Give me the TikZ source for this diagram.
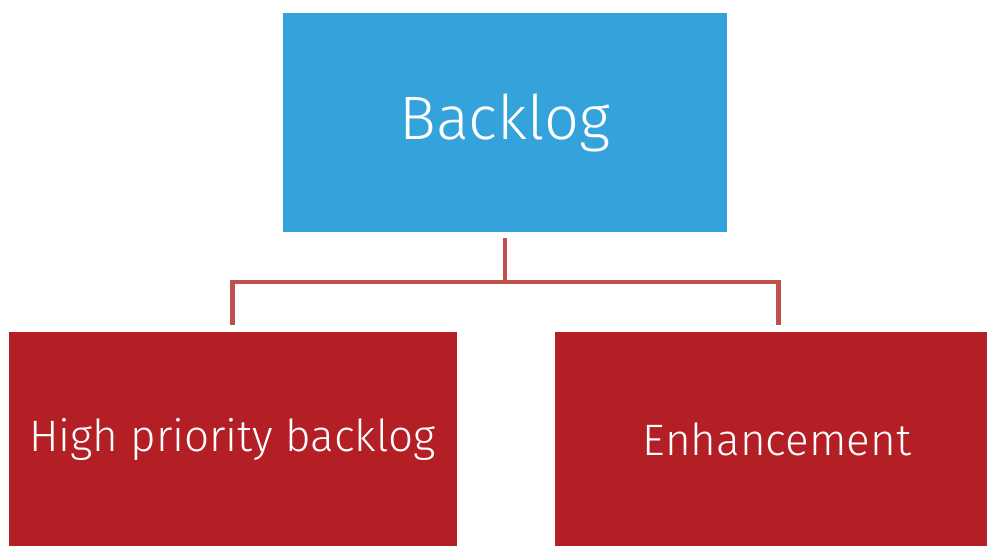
\documentclass[tikz,border=0pt]{standalone}
\usepackage{fontspec}
\setmainfont{Fira Sans}[UprightFont=* Light]
\usepackage{xcolor}
\usetikzlibrary{positioning, calc}
\definecolor{blblue}{RGB}{52, 163, 219}
\definecolor{blred}{RGB}{179, 31, 37}
\definecolor{bllink}{RGB}{192, 80, 77}

\begin{document}
\begin{tikzpicture}[
    x=0.75pt, y=-0.75pt,
    topbox/.style={fill=blblue, minimum width=333pt, minimum height=164.25pt,
                   inner sep=0pt, text=white, font=\fontsize{46}{54}\selectfont},
    itembox/.style={fill=blred, minimum height=160.5pt,
                     inner sep=0pt, text=white, font=\fontsize{33}{40}\selectfont},
    link/.style={draw=bllink, line width=3.6pt},
  ]
    \useasboundingbox (0,0) rectangle (987,546);
    % Backlog root
    \node[topbox] (root) at (505, 122.5) {Backlog};
    % Two children
    \node[itembox, minimum width=336pt] (high) at (232.5, 439) {High priority backlog};
    \node[itembox, minimum width=324pt] (enh) at (771, 439) {\hspace*{9pt}Enhancement};
    % Elbow connectors
    \coordinate (fork) at (505, 282);
    \draw[link] ($(root.south)+(0,6)$) -- (fork);
    \draw[link] (fork) -| ($(high.north)+(0,-7)$);
    \draw[link] (fork) -| ($(enh.north east)+(-209,-7)$);
\end{tikzpicture}
\end{document}
